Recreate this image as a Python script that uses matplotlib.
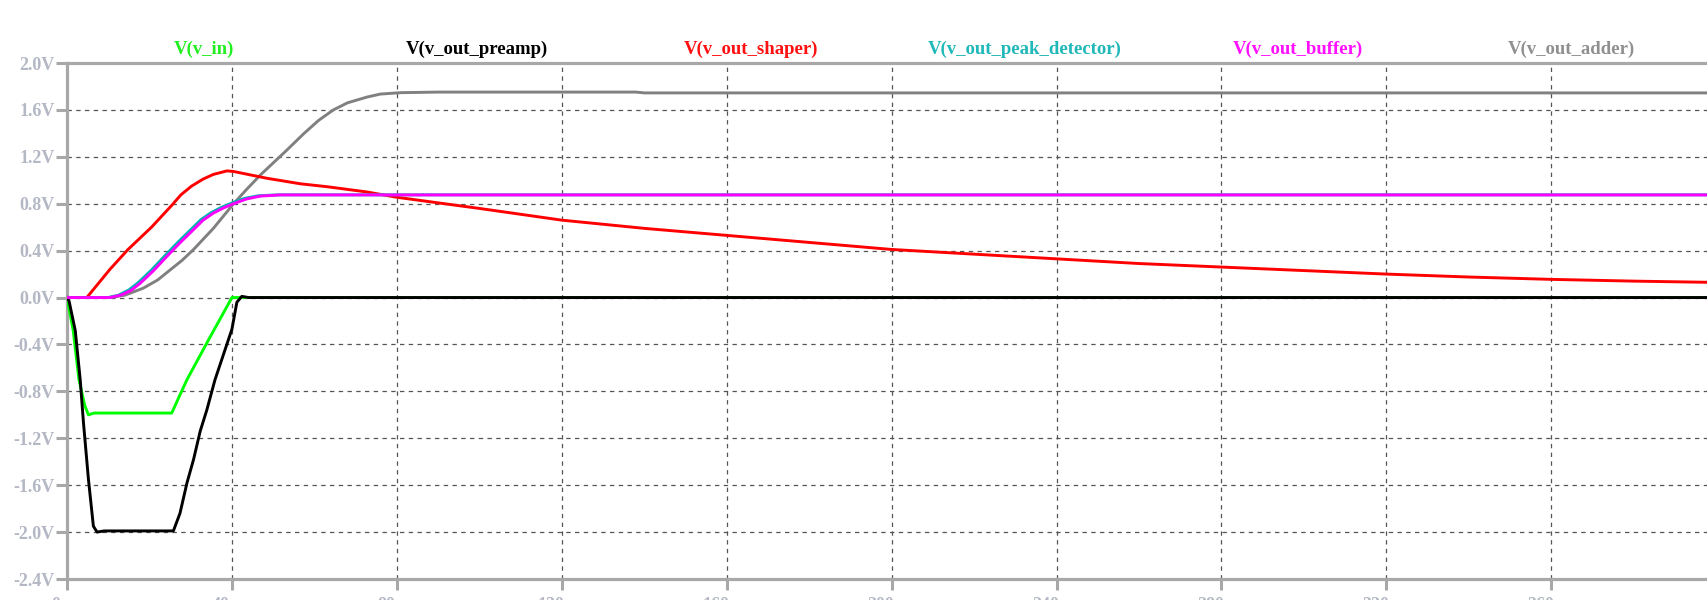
import matplotlib
matplotlib.use("Agg")
import matplotlib.pyplot as plt
import numpy as np

# time axis in ms, voltages in V
t_in = [0, 1.5, 2.9, 4.3, 5.2, 6.6, 25.4, 27.4, 29.1, 34.5, 40, 398]
v_in = [0, -0.28, -0.70, -0.92, -1.0, -0.985, -0.985, -0.83, -0.70, -0.35, 0.0, 0.0]

t_pre = [0, 0.5, 2.0, 3.2, 4.0, 5.2, 6.4, 7.3, 9, 25.8, 27.4, 29.1, 30.7, 32.3,
         33.9, 35.9, 38, 40, 41.2, 42.4, 44, 398]
v_pre = [0, -0.03, -0.28, -0.70, -1.07, -1.55, -1.95, -2.0, -1.99, -1.99, -1.84,
         -1.58, -1.38, -1.14, -0.96, -0.70, -0.48, -0.27, -0.04, 0.01, 0.0, 0.0]

t_sh = [0, 4.8, 10.4, 14.8, 20.5, 25.5, 27.6, 30.2, 33, 35.5, 38.8, 40.4,
        48.5, 56.6, 63.1, 72.8, 80, 100, 120, 140, 160, 180, 200, 220, 240,
        260, 280, 300, 320, 340, 360, 380, 398]
v_sh = [0, 0, 0.24, 0.41, 0.60, 0.79, 0.875, 0.95, 1.01, 1.05, 1.08, 1.075,
        1.017, 0.97, 0.945, 0.90, 0.855, 0.76, 0.66, 0.59, 0.53, 0.47, 0.41,
        0.37, 0.33, 0.29, 0.26, 0.23, 0.20, 0.175, 0.155, 0.14, 0.13]

t_pk = [0, 9.9, 12.5, 15, 17.2, 20.5, 23.7, 27, 30.2, 32.5, 35, 37.5, 39.9,
        43, 46.4, 51.2, 398]
v_pk = [0, 0, 0.02, 0.065, 0.125, 0.235, 0.355, 0.475, 0.585, 0.665, 0.725,
        0.77, 0.805, 0.845, 0.868, 0.876, 0.876]

t_buf = [0, 10.4, 13, 15.5, 17.7, 21, 24.2, 27.5, 30.7, 33, 35.5, 38, 40.4,
         43.5, 46.9, 51.7, 398]
v_buf = [0, 0, 0.02, 0.06, 0.12, 0.23, 0.35, 0.47, 0.58, 0.66, 0.72, 0.765,
         0.80, 0.84, 0.865, 0.875, 0.875]

t_add = [0, 10.4, 14, 18.5, 22, 25, 28, 30.7, 35.5, 40.4, 43.5, 46.9, 53.4,
         57.5, 61, 64.6, 68, 72.8, 76, 80.9, 90, 138, 140, 398]
v_add = [0, 0, 0.02, 0.08, 0.15, 0.235, 0.32, 0.41, 0.59, 0.80, 0.92, 1.045,
         1.26, 1.40, 1.51, 1.60, 1.66, 1.71, 1.735, 1.747, 1.752, 1.752,
         1.745, 1.745]

names = ["V(v_in)", "V(v_out_preamp)", "V(v_out_shaper)",
         "V(v_out_peak_detector)", "V(v_out_buffer)", "V(v_out_adder)"]
trace_colors = ["#00ff00", "#000000", "#ff0000", "#00b4b4", "#ff00ff", "#808080"]
label_colors = ["#22ee22", "#000000", "#ff1010", "#20b8b8", "#ff10ff", "#909090"]

yticks = np.arange(-2.4, 2.01, 0.4)
xticks = np.arange(0, 361, 40)

fig = plt.figure(figsize=(17.08, 6.0), dpi=100)
ax = fig.add_axes([67 / 1708, 21 / 600, 1 - 67 / 1708, (579 - 63) / 600])

series = [(t_in, v_in), (t_pre, v_pre), (t_sh, v_sh),
          (t_pk, v_pk), (t_buf, v_buf), (t_add, v_add)]
zorders = [3, 4, 3, 3, 4, 2]
for (t, v), c, z in zip(series, trace_colors, zorders):
    ax.plot(t, v, color=c, lw=2.1, zorder=z, solid_joinstyle="round")

ax.set_xlim(0, 398)
ax.set_ylim(-2.4, 2.0)
ax.set_yticks(yticks)
ax.set_yticklabels([f"{y:.1f}V".replace("-0.0", "0.0") for y in yticks])
ax.set_xticks(xticks)
ax.set_xticklabels([f"{x}ms" for x in xticks])

ax.grid(True, color="#555555", lw=0.9, linestyle=(0, (3.5, 3.5)), zorder=1)
ax.set_axisbelow(True)

for side in ["left", "bottom", "top"]:
    ax.spines[side].set_color("#a8a8a8")
    ax.spines[side].set_linewidth(2.3)
ax.spines["right"].set_visible(False)

ax.tick_params(axis="both", colors="#a8a8a8", width=2.2, length=8, direction="out")
for lab in ax.get_yticklabels() + ax.get_xticklabels():
    lab.set_family("Liberation Serif")
    lab.set_weight("bold")
    lab.set_size(13)
    lab.set_color("#b4b8c4")
ax.tick_params(axis="y", pad=1)
ax.tick_params(axis="x", pad=5)

for i, (n, c) in enumerate(zip(names, label_colors)):
    ax.text((i + 0.5) / 6, 1.027, n, transform=ax.transAxes, ha="center",
            va="center", color=c, fontsize=13.5, fontweight="bold",
            family="Liberation Serif")

fig.savefig("out.png", dpi=100, facecolor="white")
